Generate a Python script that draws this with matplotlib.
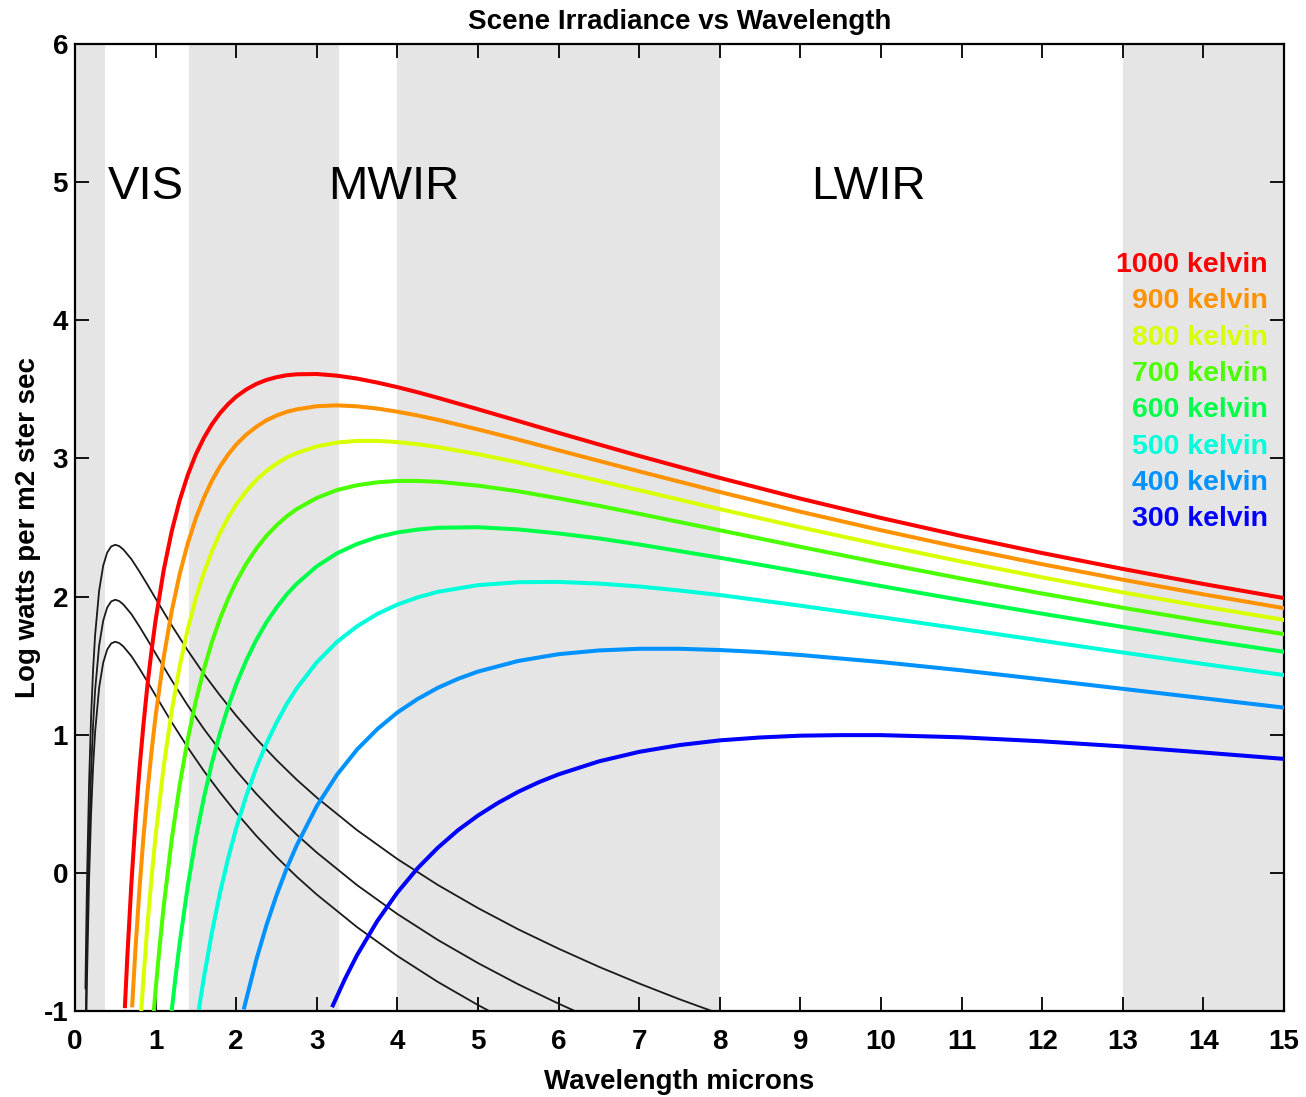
import matplotlib
matplotlib.use("Agg")
import matplotlib.pyplot as plt

plt.rcParams["font.family"] = ["Liberation Sans", "DejaVu Sans"]
plt.rcParams["axes.unicode_minus"] = False

# absorption bands (grey) in microns
bands = [(0.0, 0.37), (1.42, 3.28), (4.0, 8.0), (13.0, 15.0)]
band_names = ["VIS", "MWIR", "LWIR"]

# blackbody curves, log10 W/m2/sr/um
temps = [1000, 900, 800, 700, 600, 500, 400, 300]
wl_1000 = [0.62, 0.65, 0.7, 0.75, 0.8, 0.85, 0.9, 0.95, 1.0, 1.1, 1.2, 1.3, 1.4, 1.5, 1.6, 1.7,
           1.8, 1.9, 2.0, 2.125, 2.25, 2.375, 2.5, 2.625, 2.75, 3.0, 3.25, 3.5, 3.75, 4, 4.25,
           4.5, 5, 5.5, 6, 6.5, 7, 8, 9, 10, 11, 12, 13, 14, 15]
val_1000 = [-0.965, -0.603, -0.076, 0.369, 0.750, 1.077, 1.362, 1.609, 1.827, 2.188, 2.472, 2.699,
            2.881, 3.030, 3.149, 3.248, 3.328, 3.393, 3.447, 3.499, 3.539, 3.568, 3.588, 3.602,
            3.609, 3.611, 3.599, 3.578, 3.549, 3.516, 3.479, 3.439, 3.356, 3.271, 3.185, 3.101,
            3.018, 2.859, 2.709, 2.569, 2.438, 2.315, 2.200, 2.091, 1.989]
wl_900 = [0.71, 0.75, 0.8, 0.85, 0.9, 0.95, 1.0, 1.1, 1.2, 1.3, 1.4, 1.5, 1.6, 1.7, 1.8, 1.9, 2.0,
          2.125, 2.25, 2.375, 2.5, 2.625, 2.75, 3.0, 3.25, 3.5, 3.75, 4, 4.25, 4.5, 5, 5.5, 6,
          6.5, 7, 8, 9, 10, 11, 12, 13, 14, 15]
val_900 = [-0.959, -0.556, -0.118, 0.261, 0.591, 0.879, 1.133, 1.557, 1.894, 2.165, 2.386, 2.567,
           2.716, 2.840, 2.943, 3.028, 3.100, 3.172, 3.229, 3.276, 3.310, 3.337, 3.355, 3.378,
           3.384, 3.377, 3.361, 3.338, 3.311, 3.280, 3.210, 3.136, 3.059, 2.982, 2.906, 2.757,
           2.614, 2.480, 2.353, 2.234, 2.122, 2.016, 1.916]
wl_800 = [0.82, 0.85, 0.9, 0.95, 1.0, 1.1, 1.2, 1.3, 1.4, 1.5, 1.6, 1.7, 1.8, 1.9, 2.0, 2.125,
          2.25, 2.375, 2.5, 2.625, 2.75, 3.0, 3.25, 3.5, 3.75, 4, 4.25, 4.5, 5, 5.5, 6, 6.5, 7,
          8, 9, 10, 11, 12, 13, 14, 15]
val_800 = [-1.019, -0.760, -0.374, -0.035, 0.265, 0.768, 1.171, 1.498, 1.766, 1.989, 2.173, 2.329,
           2.461, 2.571, 2.666, 2.763, 2.844, 2.909, 2.962, 3.006, 3.039, 3.087, 3.115, 3.127,
           3.127, 3.118, 3.103, 3.082, 3.031, 2.971, 2.905, 2.838, 2.770, 2.633, 2.501, 2.374,
           2.253, 2.139, 2.030, 1.928, 1.831]
wl_700 = [0.98, 1.0, 1.05, 1.1, 1.2, 1.3, 1.4, 1.5, 1.6, 1.7, 1.8, 1.9, 2.0, 2.125, 2.25, 2.375,
          2.5, 2.625, 2.75, 3.0, 3.25, 3.5, 3.75, 4, 4.25, 4.5, 5, 5.5, 6, 6.5, 7,
          8, 9, 10, 11, 12, 13, 14, 15]
val_700 = [-0.989, -0.851, -0.532, -0.246, 0.241, 0.639, 0.969, 1.245, 1.476, 1.673, 1.841, 1.984,
           2.107, 2.238, 2.347, 2.439, 2.515, 2.580, 2.633, 2.714, 2.771, 2.806, 2.827, 2.837,
           2.837, 2.831, 2.803, 2.762, 2.711, 2.657, 2.599, 2.480, 2.360, 2.243, 2.130, 2.022,
           1.919, 1.821, 1.728]
wl_600 = [1.2, 1.25, 1.3, 1.4, 1.5, 1.6, 1.7, 1.8, 1.9, 2.0, 2.125, 2.25, 2.375, 2.5, 2.625, 2.75,
          3.0, 3.25, 3.5, 3.75, 4, 4.25, 4.5, 5, 5.5, 6, 6.5, 7, 8, 9, 10, 11, 12, 13, 14, 15]
val_600 = [-0.998, -0.740, -0.505, -0.094, 0.253, 0.546, 0.798, 1.014, 1.201, 1.364, 1.538, 1.687,
           1.813, 1.920, 2.014, 2.092, 2.219, 2.313, 2.381, 2.430, 2.464, 2.485, 2.498, 2.502,
           2.486, 2.457, 2.421, 2.377, 2.281, 2.179, 2.076, 1.974, 1.876, 1.780, 1.687, 1.600]
wl_500 = [1.54, 1.6, 1.7, 1.8, 1.9, 2.0, 2.125, 2.25, 2.375, 2.5, 2.625, 2.75, 3.0, 3.25, 3.5,
          3.75, 4, 4.25, 4.5, 5, 5.5, 6, 6.5, 7, 7.5, 8, 9, 10, 11, 12, 13, 14, 15]
val_500 = [-0.977, -0.756, -0.427, -0.143, 0.105, 0.323, 0.558, 0.761, 0.936, 1.087, 1.220, 1.335,
           1.524, 1.672, 1.785, 1.874, 1.942, 1.994, 2.034, 2.083, 2.104, 2.106, 2.094, 2.073,
           2.044, 2.011, 1.934, 1.851, 1.766, 1.680, 1.595, 1.512, 1.432]
wl_400 = [2.1, 2.25, 2.375, 2.5, 2.625, 2.75, 3.0, 3.25, 3.5, 3.75, 4, 4.25, 4.5, 4.75, 5, 5.5, 6,
          6.5, 7, 7.5, 8, 8.5, 9, 10, 11, 12, 13, 14, 15]
val_400 = [-0.974, -0.628, -0.380, -0.163, 0.030, 0.198, 0.483, 0.710, 0.893, 1.040, 1.161, 1.258,
           1.339, 1.404, 1.457, 1.534, 1.583, 1.610, 1.622, 1.622, 1.613, 1.598, 1.577, 1.526,
           1.466, 1.400, 1.332, 1.264, 1.196]
wl_300 = [3.2, 3.35, 3.5, 3.75, 4, 4.25, 4.5, 4.75, 5, 5.25, 5.5, 5.75, 6, 6.5, 7, 7.5, 8, 8.5, 9,
          9.5, 10, 11, 12, 13, 14, 15]
val_300 = [-0.959, -0.767, -0.595, -0.349, -0.142, 0.033, 0.181, 0.308, 0.415, 0.507, 0.587, 0.655,
           0.713, 0.807, 0.876, 0.925, 0.959, 0.980, 0.993, 0.997, 0.997, 0.981, 0.952, 0.915,
           0.871, 0.825]

# solar-like curves (black)
sun_wl = [0.13, 0.14, 0.15, 0.175, 0.2, 0.225, 0.25, 0.3, 0.35, 0.4, 0.45, 0.5, 0.55, 0.6, 0.7,
          0.8, 0.9, 1.0, 1.2, 1.4, 1.6, 1.8, 2.0, 2.25, 2.5, 2.75, 3.0, 3.5, 4, 4.5, 5, 5.5, 6,
          6.5, 7, 7.5, 8]
sun_high = [-0.836, -0.405, -0.041, 0.650, 1.130, 1.472, 1.722, 2.044, 2.223, 2.319, 2.363, 2.375,
            2.365, 2.341, 2.271, 2.181, 2.085, 1.986, 1.792, 1.609, 1.439, 1.284, 1.138, 0.970,
            0.817, 0.675, 0.545, 0.309, 0.100, -0.087, -0.255, -0.409, -0.549, -0.680, -0.801,
            -0.915, -1.021]
sun_mid = [-1.234, -0.803, -0.439, 0.252, 0.732, 1.074, 1.324, 1.646, 1.825, 1.921, 1.965, 1.977,
           1.967, 1.943, 1.873, 1.783, 1.687, 1.588, 1.394, 1.211, 1.041, 0.886, 0.740, 0.572,
           0.419, 0.277, 0.147, -0.089, -0.298, -0.485, -0.653, -0.807, -0.947, -1.078]
sun_low = [-1.538, -1.107, -0.743, -0.052, 0.428, 0.770, 1.020, 1.342, 1.521, 1.617, 1.661, 1.673,
           1.663, 1.639, 1.569, 1.479, 1.383, 1.284, 1.090, 0.907, 0.737, 0.582, 0.436, 0.268,
           0.115, -0.027, -0.157, -0.393, -0.602, -0.789, -0.957, -1.111]

wls = [wl_1000, wl_900, wl_800, wl_700, wl_600, wl_500, wl_400, wl_300]
vals = [val_1000, val_900, val_800, val_700, val_600, val_500, val_400, val_300]
colors = ["#ff0000", "#ff9200", "#daff00", "#49ff00", "#00ff49", "#00ffda", "#0092ff", "#0000ff"]

fig = plt.figure(figsize=(13.06, 10.97), dpi=100)
ax = fig.add_axes([0.0574, 0.0784, 0.9258, 0.8815])

for lo, hi in bands:
    ax.axvspan(lo, hi, color="#e5e5e5", lw=0, zorder=0)

for v in [sun_high, sun_mid, sun_low]:
    ax.plot(sun_wl[:len(v)], v, color="#1a1a1a", lw=1.3, zorder=2, solid_joinstyle="round")

for w, v, c in zip(wls, vals, colors):
    ax.plot(w, v, color=c, lw=2.9, zorder=3, solid_joinstyle="round")

# temperature labels
for i, (t, c) in enumerate(zip(temps, colors)):
    ax.text(14.8, 4.40 - i * 0.263, f"{t} kelvin", color=c, fontsize=20.5,
            fontweight="bold", ha="right", va="center", zorder=4)

for name, xpos in zip(band_names, [0.88, 3.95, 9.84]):
    ax.text(xpos, 4.965, name, fontsize=34, ha="center", va="center", zorder=4)

ax.set_xlim(0, 15)
ax.set_ylim(-1, 6)
ax.set_xticks(range(0, 16))
ax.set_yticks(range(-1, 7))
ax.tick_params(direction="in", length=10, width=1.3, top=True, right=True, labelsize=20)
ax.tick_params(axis="x", pad=13)
ax.tick_params(axis="y", pad=5)
for lab in ax.get_xticklabels() + ax.get_yticklabels():
    lab.set_fontweight("bold")
for sp in ax.spines.values():
    sp.set_linewidth(1.6)

ax.set_title("Scene Irradiance vs Wavelength", fontsize=20, fontweight="bold", pad=11)
ax.set_xlabel("Wavelength microns", fontsize=20, fontweight="bold", labelpad=10)
ax.set_ylabel("Log watts per m2 ster sec", fontsize=20, fontweight="bold", labelpad=2)

fig.savefig("out.png", dpi=100)
